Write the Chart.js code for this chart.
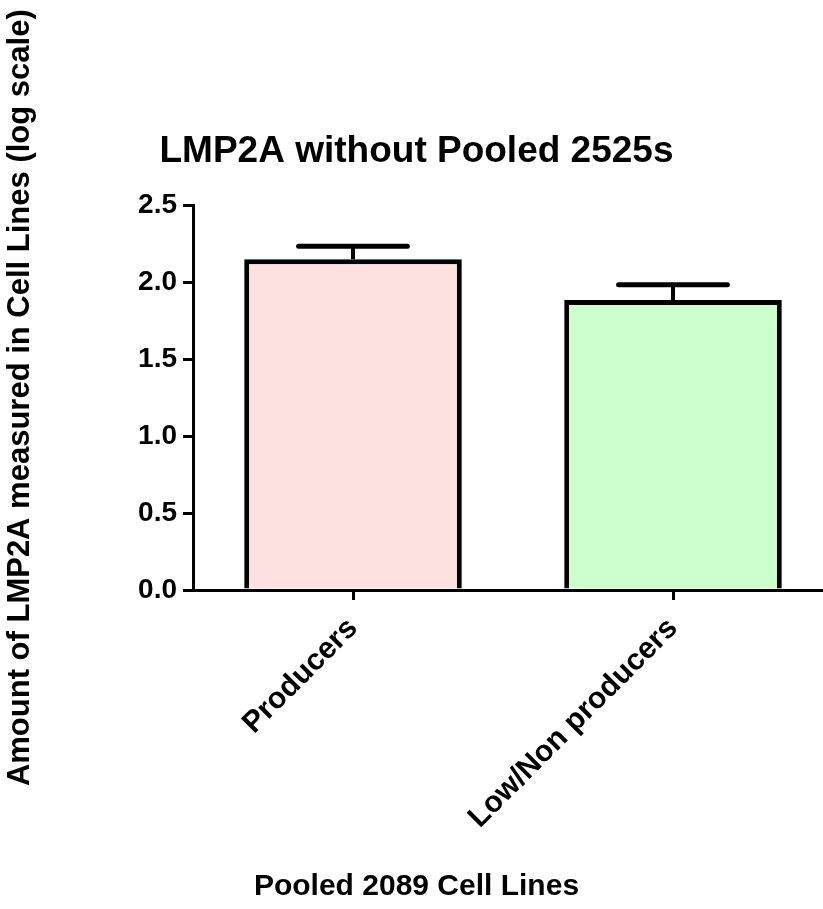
<!DOCTYPE html>
<html>
<head>
<meta charset="utf-8">
<script src="https://cdn.jsdelivr.net/npm/chart.js@4"></script>
<style>
  body { margin: 0; overflow: hidden; background: #fff; }
  #wrap { width: 833px; height: 909px; }
</style>
</head>
<body>
<div id="wrap"><canvas id="chart" width="833" height="909"></canvas></div>
<script>
// data
const categories = ["Producers", "Low/Non producers"];
const means = [2.15, 1.885];
const sems = [0.085, 0.10];
const yTicks = [0, 0.5, 1.0, 1.5, 2.0, 2.5];

const fontFamily = '"Liberation Sans", Arial, Helvetica, sans-serif';

// draws the upper error bar (mean + SEM) on top of each bar
const errorBars = {
    id: "errorBars",
    afterDatasetsDraw(chart) {
        const ctx = chart.ctx;
        const yScale = chart.scales.y;
        chart.getDatasetMeta(0).data.forEach((bar, i) => {
            const top = yScale.getPixelForValue(means[i] + sems[i]);
            const half = bar.width / 4;
            ctx.save();
            ctx.strokeStyle = "#000";
            ctx.lineWidth = 4;
            ctx.beginPath();
            ctx.moveTo(bar.x, bar.y);
            ctx.lineTo(bar.x, top);
            ctx.stroke();
            ctx.lineWidth = 5;
            ctx.lineCap = "round";
            ctx.beginPath();
            ctx.moveTo(bar.x - half, top);
            ctx.lineTo(bar.x + half, top);
            ctx.stroke();
            ctx.restore();
        });
    }
};

const ctx = document.getElementById("chart");
new Chart(ctx, {
    type: "bar",
    data: {
        labels: categories,
        datasets: [
            {
                data: means,
                backgroundColor: ["#fde0e0", "#ccffcc"],
                borderColor: "#000",
                borderWidth: 5,
                barPercentage: 0.68,
                categoryPercentage: 1.0,
            },
        ],
    },
    options: {
        responsive: false,
        animation: false,
        layout: { padding: 0 },
        plugins: {
            legend: { display: false },
            tooltip: { enabled: false },
            title: {
                display: true,
                text: "LMP2A without Pooled 2525s",
                color: "#000",
                font: { family: fontFamily, size: 37, weight: "bold" },
                padding: { top: 130, bottom: 31 },
            },
            subtitle: {
                display: true,
                position: "bottom",
                text: "Pooled 2089 Cell Lines",
                color: "#000",
                font: { family: fontFamily, size: 30, weight: "bold" },
                padding: { top: 8, bottom: 4 },
            },
        },
        scales: {
            x: {
                afterFit: (scale) => { scale.height = 271; },
                border: { display: true, color: "#000", width: 3 },
                grid: { display: true, offset: false, drawOnChartArea: false, tickLength: 10, color: "#000", lineWidth: 3 },
                ticks: {
                    autoSkip: false,
                    minRotation: 45,
                    maxRotation: 45,
                    padding: 11,
                    color: "#000",
                    font: { family: fontFamily, size: 30, weight: "bold" },
                },
            },
            y: {
                min: 0,
                max: 2.5,
                afterFit: (scale) => { scale.width = 193; },
                afterBuildTicks: (scale) => { scale.ticks = yTicks.map((v) => ({ value: v })); },
                border: { display: true, color: "#000", width: 3 },
                grid: { display: true, drawOnChartArea: false, tickLength: 10, color: "#000", lineWidth: 3 },
                ticks: {
                    padding: 6,
                    color: "#000",
                    font: { family: fontFamily, size: 28, weight: "bold" },
                    callback: (v) => Number(v).toFixed(1),
                },
                title: {
                    display: true,
                    text: "Amount of LMP2A measured in Cell Lines (log scale)",
                    color: "#000",
                    font: { family: fontFamily, size: 31, weight: "bold" },
                    padding: { top: 2, bottom: 0 },
                },
            },
        },
    },
    plugins: [errorBars],
});
</script>
</body>
</html>
